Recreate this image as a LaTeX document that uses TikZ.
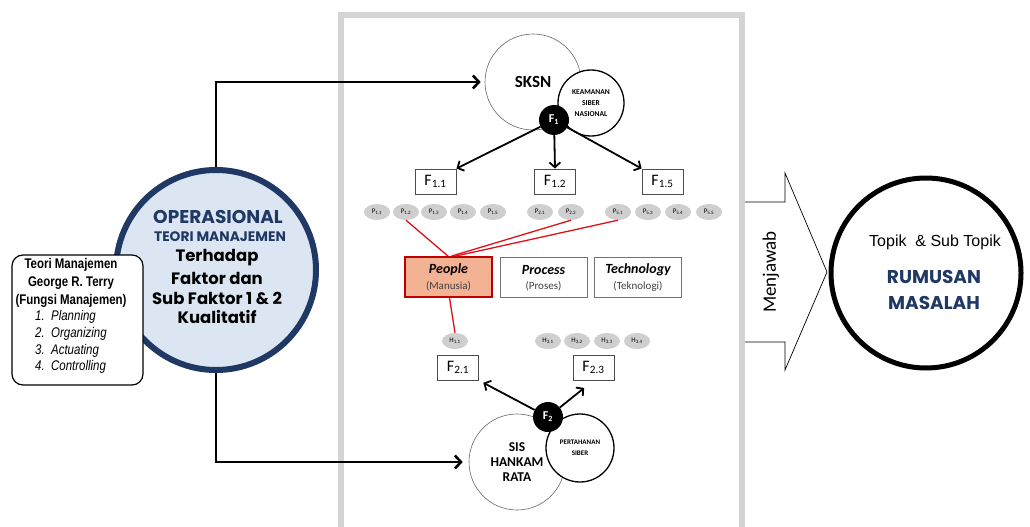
\documentclass[tikz,border=0pt]{standalone}
\usepackage{fontspec}
\usepackage{graphicx}
\setmainfont{Carlito}
\newfontfamily\arialf{Liberation Sans}
\newfontfamily\arialn[FakeStretch=0.82]{Liberation Sans}
\newfontfamily\gothic{Poppins}
\usetikzlibrary{arrows.meta,shapes.geometric}
\definecolor{navy}{HTML}{1F3864}
\definecolor{lblue}{HTML}{DCE6F2}
\definecolor{framegray}{HTML}{D4D4D4}
\definecolor{pgray}{HTML}{CFCFCF}
\definecolor{salmon}{HTML}{F4B294}
\definecolor{dred}{HTML}{C00000}
\definecolor{lred}{HTML}{E0101A}
\newcommand\sbt[1]{\textsubscript{#1}}
\begin{document}
\begin{tikzpicture}[x=1pt,y=-1pt,
  framebox/.style={draw=framegray,line width=6pt},
  fbox/.style={draw=black!70,line width=0.9pt,fill=white,minimum width=41pt,minimum height=25pt,inner sep=0pt,font=\fontsize{16}{16}\selectfont},
  pell/.style={ellipse,fill=pgray,minimum width=26pt,minimum height=16pt,inner sep=0pt,font=\fontsize{7}{7}\selectfont},
  ppbox/.style={draw=black!55,line width=1pt,fill=white,minimum width=87pt,minimum height=40pt,inner sep=0pt},
  blk/.style={circle,fill=black,minimum size=30pt,inner sep=0pt,text=white,font=\bfseries\fontsize{12}{12}\selectfont},
  bigarrow/.style={-{Straight Barb[length=6pt,width=13pt]},line width=2.6pt},
  midarrow/.style={-{Straight Barb[length=5pt,width=11pt]},line width=1.8pt},
  redl/.style={draw=lred,line width=1.3pt},
  ringthin/.style={circle,draw=black!60,line width=0.6pt,fill=white,inner sep=0pt},
  ringmid/.style={circle,draw=black,line width=1.3pt,fill=white,inner sep=0pt},
  optext/.style={font=\gothic\bfseries\fontsize{16.5}{16.5}\selectfont}
]
\useasboundingbox (0,0) rectangle (1030,527);
\fill[white] (0,0) rectangle (1030,527);

% central frame
\draw[framebox] (341,15) rectangle (742,545);

% big "Menjawab" arrow
\draw[line width=0.7pt,fill=white] (745,202) -- (785,202) -- (785,173) -- (827,272) -- (785,370) -- (785,342) -- (745,342);
\node[rotate=90,font=\fontsize{19}{19}\selectfont] (mj) at (771,272) {Menjawab};

% right circle
\node[circle,draw=black,line width=5pt,minimum size=190pt,inner sep=0pt] (RM) at (926,273) {};
\node[font=\arialf\fontsize{16}{16}\selectfont,inner sep=0pt] (tp) at (935,242) {Topik\ \ \& Sub Topik};
\node[font=\gothic\bfseries\fontsize{18.5}{18.5}\selectfont,text=navy] (rm1) at (934,277) {RUMUSAN};
\node[font=\gothic\bfseries\fontsize{18.5}{18.5}\selectfont,text=navy] (rm2) at (934,303) {MASALAH};

% left circle
\node[circle,draw=navy,fill=lblue,line width=6pt,minimum size=200pt,inner sep=0pt] (OP) at (216,270) {};
\node[font=\gothic\bfseries\fontsize{18.5}{18.5}\selectfont,text=navy] (op1) at (218,217) {OPERASIONAL};
\node[font=\gothic\bfseries\fontsize{13.8}{13.8}\selectfont,text=navy] (op2) at (220,237) {TEORI MANAJEMEN};
\node[optext] (op3) at (217,258) {Terhadap};
\node[optext] (op4) at (217,278) {Faktor dan};
\node[optext] (op5) at (217,298) {Sub Faktor 1 \& 2};
\node[optext] (op6) at (217,317) {Kualitatif};

% left box
\node[draw=black,line width=1.2pt,fill=white,rounded corners=11pt,minimum width=131pt,minimum height=130pt,inner sep=0pt] (LB) at (77.5,320) {};
\node[font=\arialn\bfseries\fontsize{14}{17.8}\selectfont,align=center,inner sep=0pt] (LT) at (71,283) {Teori Manajemen\\George R. Terry\\(Fungsi Manajemen)};
\node[font=\arialn\itshape\fontsize{14}{16.8}\selectfont,align=left,anchor=west,inner sep=0pt] (LL) at (35,342) {1.\ \ Planning\\2.\ \ Organizing\\3.\ \ Actuating\\4.\ \ Controlling};

% SKSN cluster
\node[ringthin,minimum size=96pt,font=\bfseries\fontsize{17}{17}\selectfont] (SKSN) at (533,82) {SKSN};
\node[ringmid,minimum size=66pt,align=center,font=\bfseries\fontsize{7.5}{11}\selectfont] (KEA) at (591,103) {KEAMANAN\\SIBER\\NASIONAL};
\node[blk] (F1) at (554,120) {F\sbt{1}};

% F1 boxes
\node[fbox] (F11) at (435.5,181.5) {F\sbt{1.1}};
\node[fbox] (F12) at (555,181.5) {F\sbt{1.2}};
\node[fbox] (F15) at (662.5,181.5) {F\sbt{1.5}};
\draw[midarrow] (F1) -- (F11.north east);
\draw[midarrow] (F1) -- (F12.north);
\draw[midarrow] (F1) -- (F15.north west);

% P ellipses
\node[pell] (P11) at (377,212) {P\sbt{1.1}};
\node[pell] (P12) at (406,212) {P\sbt{1.2}};
\node[pell] (P13) at (434,212) {P\sbt{1.3}};
\node[pell] (P14) at (463,212) {P\sbt{1.4}};
\node[pell] (P15) at (493,212) {P\sbt{1.5}};
\node[pell] (P21) at (540,212) {P\sbt{2.1}};
\node[pell] (P22) at (571,212) {P\sbt{2.2}};
\node[pell] (P51) at (618,212) {P\sbt{5.1}};
\node[pell] (P53) at (648,212) {P\sbt{5.3}};
\node[pell] (P54) at (678,212) {P\sbt{5.4}};
\node[pell] (P55) at (709,212) {P\sbt{5.5}};

% PPT boxes
\node[ppbox,draw=dred,line width=1.8pt,fill=salmon] (PEO) at (448.5,277) {};
\node[font=\bfseries\itshape\fontsize{14}{14}\selectfont] (peo1) at (448.5,270) {People};
\node[font=\fontsize{11}{11}\selectfont,text=black!75] (peo2) at (448.5,286) {(Manusia)};
\node[ppbox] (PRO) at (543.5,277) {};
\node[font=\bfseries\itshape\fontsize{14}{14}\selectfont] (pro1) at (543.5,270) {Process};
\node[font=\fontsize{11}{11}\selectfont,text=black!75] (pro2) at (543.5,286) {(Proses)};
\node[ppbox] (TEC) at (638,277) {};
\node[font=\bfseries\itshape\fontsize{14}{14}\selectfont] (tec1) at (638,270) {Technology};
\node[font=\fontsize{11}{11}\selectfont,text=black!75] (tec2) at (638,286) {(Teknologi)};

% red links
\draw[redl] (P12.south) -- ([xshift=-0.5pt]PEO.north);
\draw[redl] (P22.south) -- ([xshift=3pt]PEO.north);
\draw[redl] (P51.south) -- ([xshift=7pt]PEO.north);

% H ellipses
\node[pell] (H11) at (455,341) {H\sbt{1.1}};
\node[pell] (H31) at (548,341) {H\sbt{3.1}};
\node[pell] (H32) at (577,341) {H\sbt{3.2}};
\node[pell] (H33) at (607,341) {H\sbt{3.3}};
\node[pell] (H34) at (637,341) {H\sbt{3.4}};
\draw[redl] ([xshift=1pt]PEO.south) -- (H11.north);

% F2 boxes
\node[fbox] (F21) at (458,367.5) {F\sbt{2.1}};
\node[fbox] (F23) at (593.5,367.5) {F\sbt{2.3}};

% SIS cluster
\node[ringthin,minimum size=96pt,align=center,font=\bfseries\fontsize{13.5}{15}\selectfont] (SIS) at (517,462) {SIS\\HANKAM\\RATA};
\node[ringmid,minimum size=68pt,align=center,font=\bfseries\fontsize{7}{11}\selectfont] (PER) at (580,448) {PERTAHANAN\\SIBER};
\node[blk] (F2) at (548,417) {F\sbt{2}};
\draw[midarrow,shorten >=5pt] (F2) -- (F21.south east);
\draw[midarrow,shorten >=12pt] (F2) -- (F23.south);

% links from left circle
\draw[bigarrow,shorten >=4pt] (OP.north) |- (SKSN.west);
\draw[bigarrow,shorten >=6pt] (OP.south) |- (SIS.west);
\end{tikzpicture}
\end{document}
